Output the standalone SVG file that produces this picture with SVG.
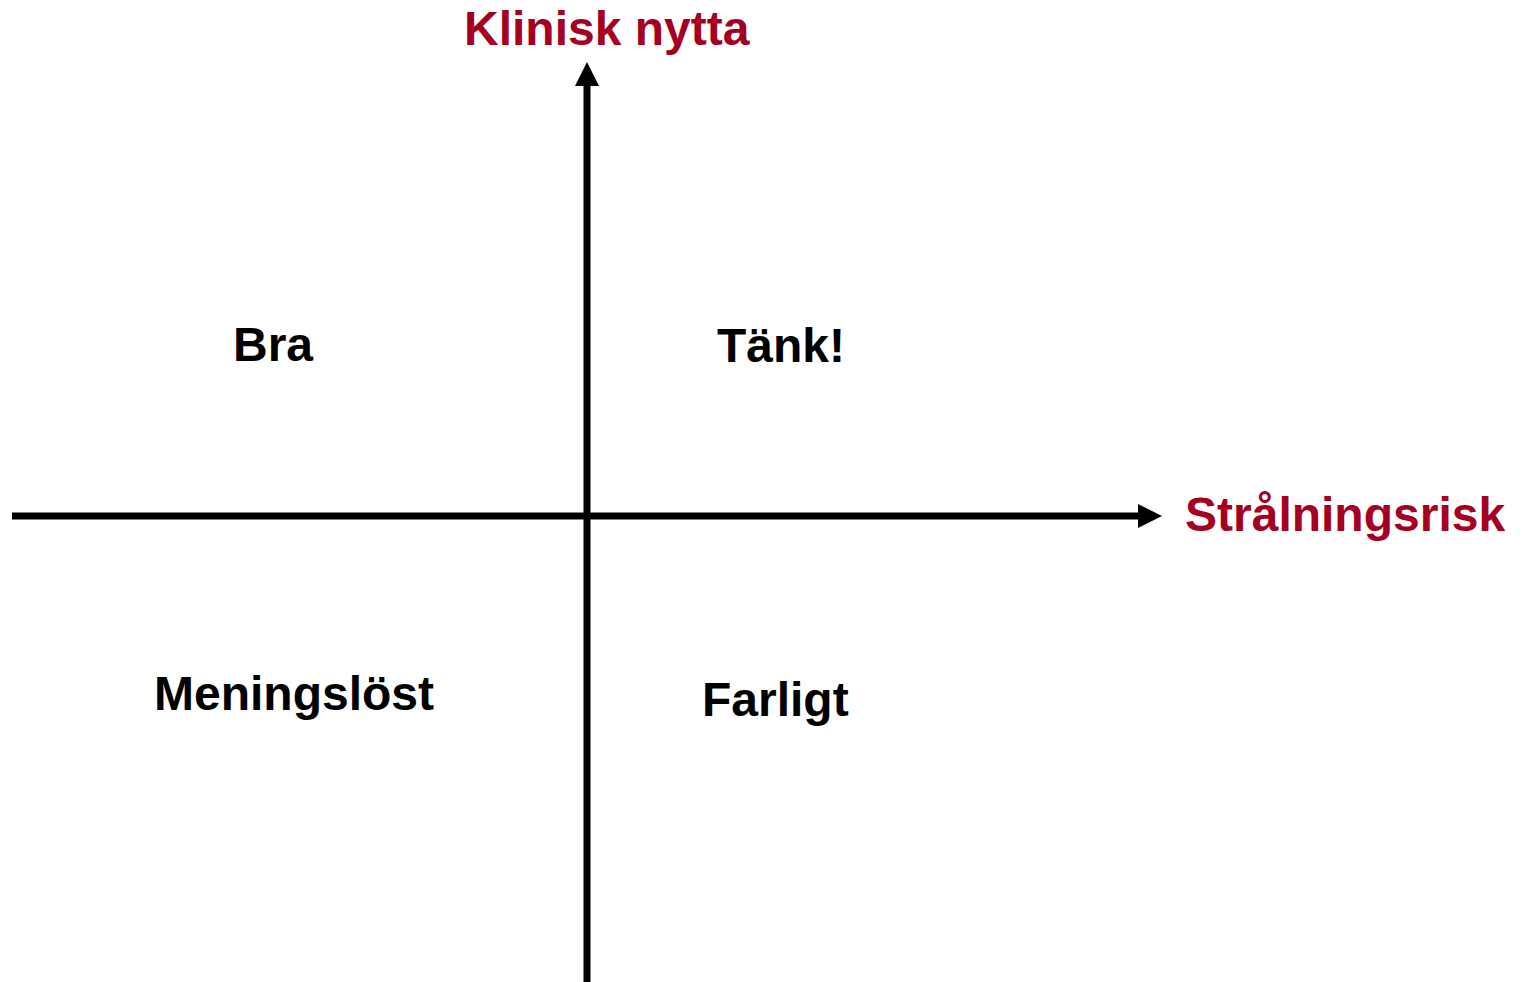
<svg xmlns="http://www.w3.org/2000/svg" width="1524" height="982" viewBox="0 0 1524 982">
  <style>
    .axis { stroke: #000; stroke-width: 7; fill: none; }
    .head { fill: #000; }
    .axis-label { font-family: "Liberation Sans", Arial, sans-serif; font-weight: bold; font-size: 48px; fill: #A50021; }
    .quad { font-family: "Liberation Sans", Arial, sans-serif; font-weight: bold; font-size: 48px; fill: #000; }
  </style>
  <rect width="1524" height="982" fill="#fff"/>
  <g id="connectors">
    <line class="axis" x1="12" y1="516" x2="1140" y2="516"/>
    <polygon class="head" points="1162,516 1138,504 1138,528"/>
    <line class="axis" x1="587" y1="982" x2="587" y2="84"/>
    <polygon class="head" points="587,62 575,86 599,86"/>
  </g>
  <g id="y-axis-label"><text class="axis-label" x="464" y="45">Klinisk nytta</text></g>
  <g id="x-axis-label"><text class="axis-label" x="1185" y="531">Strålningsrisk</text></g>
  <g id="bra"><text class="quad" x="233" y="361">Bra</text></g>
  <g id="tank"><text class="quad" x="717" y="362">Tänk!</text></g>
  <g id="meningslost"><text class="quad" x="154" y="710">Meningslöst</text></g>
  <g id="farligt"><text class="quad" x="702" y="716">Farligt</text></g>
</svg>
